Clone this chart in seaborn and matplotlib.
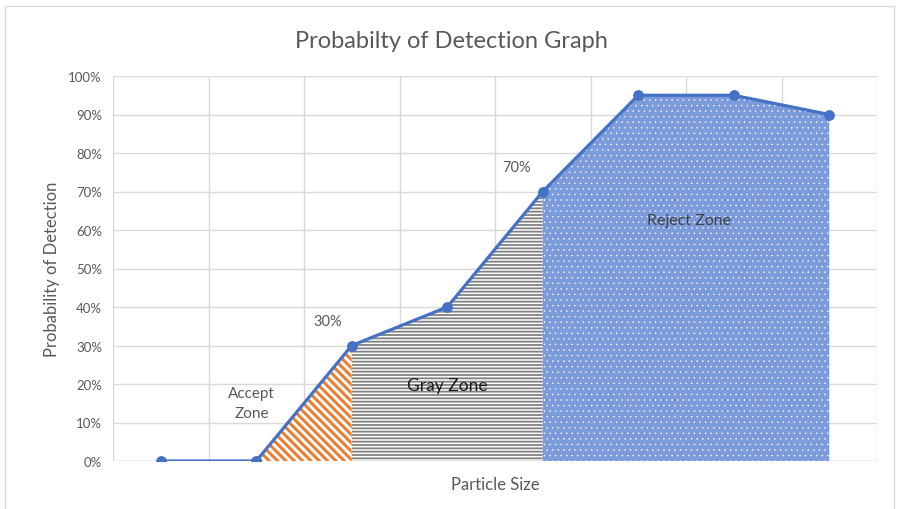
import matplotlib
matplotlib.use('Agg')
import matplotlib.pyplot as plt
import seaborn as sns
import pandas as pd
import numpy as np
from matplotlib.patches import Rectangle

# values (8 particle size categories, no tick labels)
sizes = [0, 1, 2, 3, 4, 5, 6, 7]
detection = [0, 0, 30, 40, 70, 95, 95, 90]
label_30 = '30%'
label_70 = '70%'

data = pd.DataFrame({'size': sizes, 'pod': detection})

sns.set_style('white')
plt.rcParams['font.family'] = ['Lato', 'DejaVu Sans']

fig = plt.figure(figsize=(9, 5.1), dpi=100)
ax = fig.add_axes([113 / 900, 1 - 462 / 510, 764 / 900, 385 / 510])

x = data['size'].values
y = data['pod'].values
text_gray = '#595959'

# accept zone: orange diagonal hatch
plt.rcParams['hatch.linewidth'] = 2.2
m = (x >= 1) & (x <= 2)
ax.fill_between(x[m], 0, y[m], facecolor='white', edgecolor='#ed7d31',
                hatch='\\\\\\\\', linewidth=0, zorder=2)

# gray zone: dense horizontal lines
plt.rcParams['hatch.linewidth'] = 1.3
m = (x >= 2) & (x <= 4)
ax.fill_between(x[m], 0, y[m], facecolor='white', edgecolor='#808080',
                hatch='-----', linewidth=0, zorder=2)

# reject zone: blue with white dots
plt.rcParams['hatch.linewidth'] = 0.3
m = (x >= 4)
ax.fill_between(x[m], 0, y[m], facecolor='#7b9bdb', edgecolor='white',
                hatch='...', linewidth=0, zorder=2)

sns.lineplot(data=data, x='size', y='pod', ax=ax, color='#4472c4', linewidth=2.3,
             marker='o', markersize=7, markeredgecolor='#4472c4', zorder=4)

ax.set_xlim(-0.5, 7.5)
ax.set_ylim(0, 100)
ax.set_yticks(np.arange(0, 101, 10))
ax.set_yticklabels([f'{v}%' for v in range(0, 101, 10)], color=text_gray, fontsize=9.5)
ax.set_xticks(np.arange(-0.5, 8, 1))
ax.set_xticklabels([])
ax.tick_params(length=0, pad=8)
ax.grid(True, color='#d9d9d9', linewidth=1, zorder=0)
ax.set_axisbelow(True)
for s in ax.spines.values():
    s.set_visible(False)
ax.axhline(0, color='#d9d9d9', linewidth=1, zorder=1)

ax.set_xlabel('Particle Size', color=text_gray, fontsize=12, labelpad=3)
ax.set_ylabel('Probability of Detection', color=text_gray, fontsize=12, labelpad=6)
ax.set_title('Probabilty of Detection Graph', color=text_gray, fontsize=17, pad=21,
             x=(451 - 113) / 764)

ax.text(1.75, 36.4, label_30, color=text_gray, fontsize=10.5, ha='center', va='center', zorder=5)
ax.text(3.73, 76.4, label_70, color=text_gray, fontsize=10.5, ha='center', va='center', zorder=5)
ax.text(0.95, 15.1, 'Accept\nZone', color=text_gray, fontsize=11, ha='center', va='center',
        linespacing=1.5, zorder=5)
ax.text(3.0, 19.7, 'Gray Zone', color='#1a1a1a', fontsize=12.5, ha='center', va='center', zorder=5)
ax.text(5.53, 62.6, 'Reject Zone', color='#404040', fontsize=11.5, ha='center', va='center', zorder=5)

# chart area border
fig.patches.append(Rectangle((5 / 900, -0.05), 889 / 900, 1 - 7 / 510 + 0.05,
                             transform=fig.transFigure, fill=False,
                             edgecolor='#d9d9d9', linewidth=1))

plt.savefig('out.png', dpi=100)
